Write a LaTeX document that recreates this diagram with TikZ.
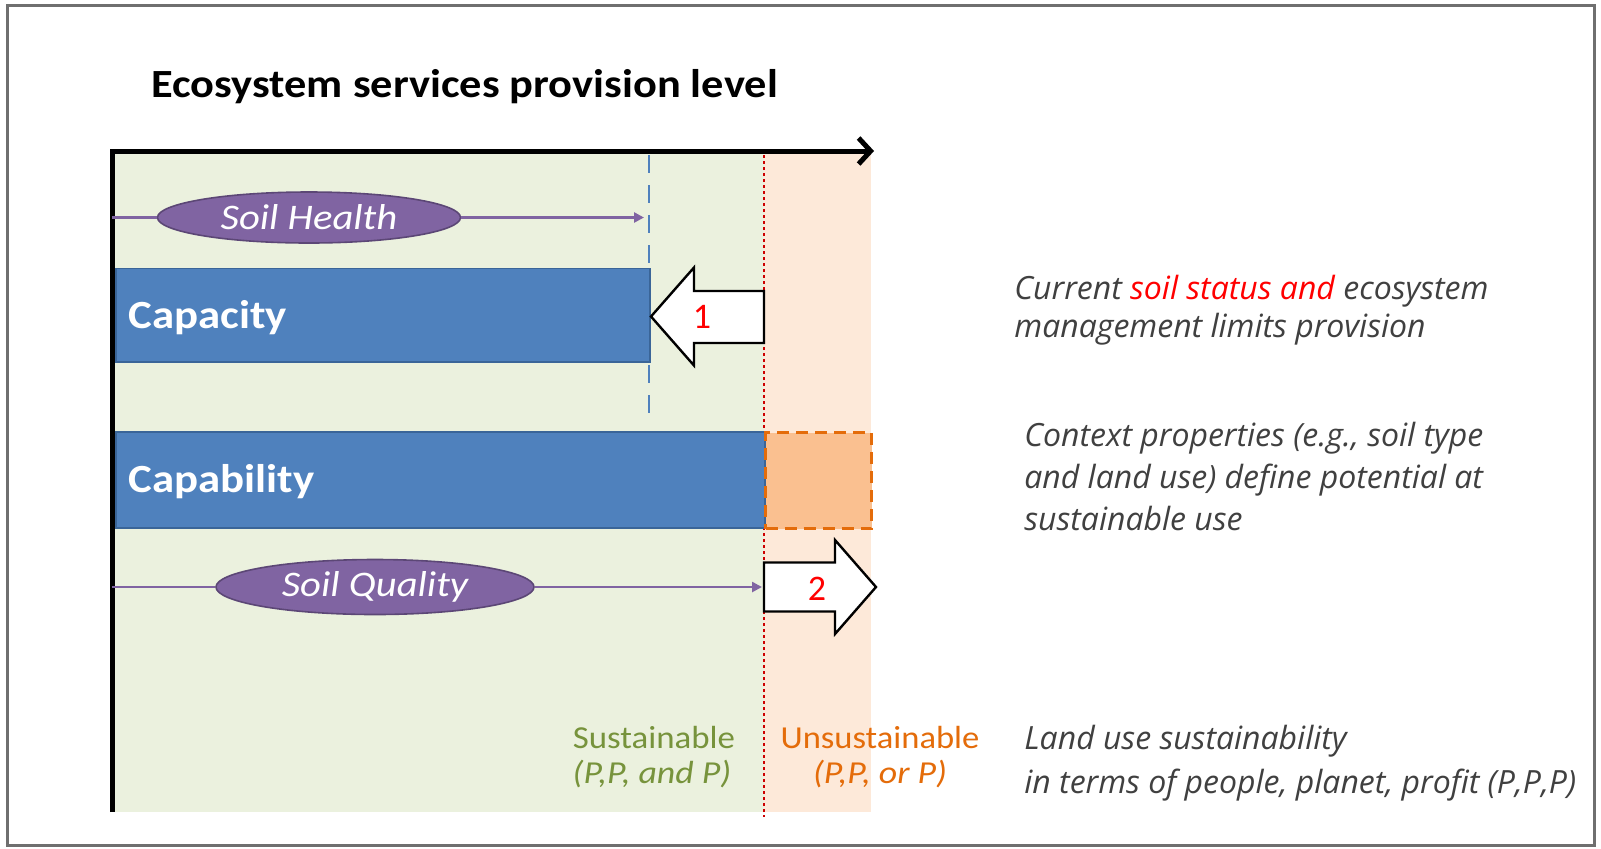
\documentclass[tikz,border=0pt]{standalone}
\usepackage{fontspec}
\setmainfont{Carlito}
\newfontfamily\sidefont{Open Sans}
\usetikzlibrary{arrows.meta,shapes.geometric}
\definecolor{barblue}{HTML}{4F81BD}
\definecolor{bardark}{HTML}{3A6598}
\definecolor{purp}{HTML}{8064A2}
\definecolor{purpdark}{HTML}{5C4776}
\definecolor{sustbg}{HTML}{EBF1DE}
\definecolor{unsustbg}{HTML}{FDE9D9}
\definecolor{orfill}{HTML}{FAC090}
\definecolor{ordark}{HTML}{E46C0A}
\definecolor{grtxt}{HTML}{77933C}
\definecolor{graytxt}{HTML}{404040}
\definecolor{framegray}{HTML}{6F6F6F}
\tikzset{
  frame/.style={draw=framegray, line width=1.5pt},
  ttl/.style={font=\fontsize{20}{24}\selectfont\bfseries, inner sep=0pt},
  axisline/.style={line width=2.5pt, line join=miter},
  bar/.style={draw=bardark, fill=barblue, line width=0.8pt, inner sep=0pt, anchor=north west},
  barlabel/.style={font=\fontsize{20}{24}\selectfont\bfseries, text=white, inner sep=0pt, anchor=west},
  ell/.style={ellipse, draw=purpdark, fill=purp, line width=0.8pt, inner sep=0pt, text=white, font=\fontsize{18}{20}\selectfont\itshape},
  pline/.style={draw=purp, line width=1.4pt},
  bluedash/.style={draw=barblue, line width=1.2pt, dash pattern=on 9pt off 6pt},
  reddot/.style={draw=red!80!black, line width=1pt, dash pattern=on 1.5pt off 1.5pt},
  blockarrow/.style={draw=black, fill=white, line width=1.2pt, line join=miter},
  num/.style={text=red, font=\fontsize{18}{20}\selectfont, inner sep=0pt},
  side/.style={text=graytxt, font=\sidefont\fontsize{16}{19}\selectfont\itshape, align=left, inner sep=0pt, anchor=west},
  zone/.style={font=\fontsize{16}{18}\selectfont, inner sep=0pt},
}
\newcommand{\wide}[2]{\scalebox{#1}[1]{#2}}
\begin{document}
\begin{tikzpicture}[x=0.5pt,y=-0.5pt]
\useasboundingbox (0,0) rectangle (1601,848);
\fill[white] (0,0) rectangle (1601,848);
\draw[frame] (7,5) rectangle (1594,845);
% backgrounds
\fill[sustbg] (112,153) rectangle (764,812);
\fill[unsustbg] (764,153) rectangle (871,812);
% title
\node[ttl, anchor=west] (title) at (151,87) {\wide{1.11}{Ecosystem services provision level}};
% axes
\coordinate (origin) at (112,151);
\coordinate (xend) at (874,151);
\coordinate (ybot) at (112,812);
\draw[axisline, -{Straight Barb[length=6pt, width=13pt]}] (ybot) -- (origin) -- (xend);
% limit lines
\coordinate (bd0) at (649,155);
\coordinate (bd1) at (649,424);
\draw[bluedash] (bd0) -- (bd1);
\coordinate (rd0) at (764,155);
\coordinate (rd1) at (764,817);
\draw[reddot] (rd0) -- (rd1);
% soil health
\coordinate (sh0) at (112,217.5);
\coordinate (sh1) at (644,217.5);
\node[ell, minimum width=151.5pt, minimum height=25.5pt] (sh) at (309,217.5) {\wide{1.13}{Soil Health}};
\draw[pline] (sh0) -- (sh.west);
\draw[pline, -{Triangle[length=5pt, width=5pt]}] (sh.east) -- (sh1);
% capacity
\node[bar, minimum width=267pt, minimum height=46.75pt] (capacity) at (115,267.5) {};
\node[barlabel] (capl) at (128,318) {\wide{1.12}{Capacity}};
% arrow 1
\draw[blockarrow] (651,316.5) -- (694,267.5) -- (694,291) -- (764,291) -- (764,343) -- (694,343) -- (694,365.5) -- cycle;
\node[num] (n1) at (702,316.5) {1};
% capability
\node[bar, minimum width=324.5pt, minimum height=48pt] (capability) at (115,431) {};
\node[barlabel] (capbl) at (128,482) {\wide{1.12}{Capability}};
\node[draw=ordark, fill=orfill, line width=1.5pt, dash pattern=on 6pt off 3.5pt, inner sep=0pt, anchor=north west, minimum width=53pt, minimum height=48pt] (over) at (764,431) {};
% soil quality
\coordinate (sq0) at (112,587);
\coordinate (sq1) at (762,587);
\node[ell, minimum width=159pt, minimum height=27.5pt] (sq) at (375,587) {\wide{1.13}{Soil Quality}};
\draw[pline] (sq0) -- (sq.west);
\draw[pline, -{Triangle[length=5pt, width=5pt]}] (sq.east) -- (sq1);
% arrow 2
\draw[blockarrow] (764,562.5) -- (835,562.5) -- (835,540) -- (876,587) -- (835,634) -- (835,611.5) -- (764,611.5) -- cycle;
\node[num] (n2) at (817,589) {2};
% zone labels
\node[zone, text=grtxt] (sust) at (654,737) {\wide{1.09}{Sustainable}};
\node[zone, text=grtxt, font=\fontsize{16}{18}\selectfont\itshape] (sustp) at (652,774) {\wide{1.12}{(P,P, and P)}};
\node[zone, text=ordark] (unsust) at (880,737) {\wide{1.08}{Unsustainable}};
\node[zone, text=ordark, font=\fontsize{16}{18}\selectfont\itshape] (unsustp) at (880,774) {\wide{1.12}{(P,P, or P)}};
% side texts
\node[side] (t1) at (1014,310) {Current \textcolor{red}{soil status and} ecosystem\\management limits provision};
\node[side, font=\sidefont\fontsize{16}{21}\selectfont\itshape] (t2) at (1024,476) {Context properties (e.g., soil type\\and land use) define potential at\\sustainable use};
\node[side, font=\sidefont\fontsize{16}{22}\selectfont\itshape] (t3) at (1024,763) {Land use sustainability\\in terms of people, planet, profit (P,P,P)};
\end{tikzpicture}
\end{document}
